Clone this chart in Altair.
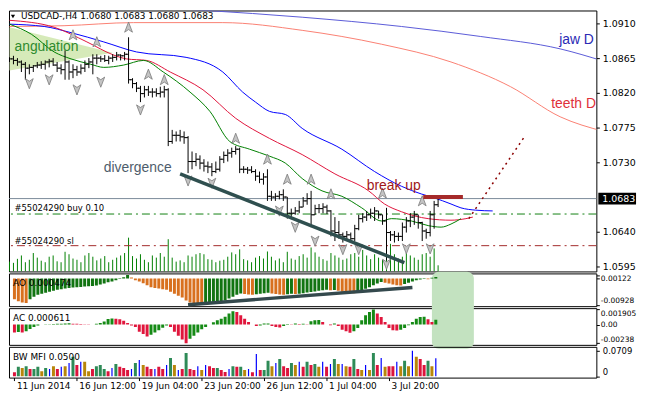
import altair as alt
import pandas as pd

# ---------------- data ----------------
TITLE = "USDCAD-,H4  1.0680 1.0683 1.0680 1.0683"

OPEN = [1.0865,1.0864,1.0862,1.0860,1.0857,1.0852,1.0853,1.0855,1.0856,1.0857,
        1.0860,1.0861,1.0856,1.0852,1.0850,1.0860,1.0847,1.0850,1.0847,1.0852,
        1.0857,1.0860,1.0865,1.0865,1.0864,1.0862,1.0865,1.0866,1.0869,1.0868,
        1.0870,1.0837,1.0832,1.0826,1.0819,1.0824,1.0821,1.0821,1.0819,1.0821,
        1.0824,1.0757,1.0765,1.0765,1.0763,1.0762,1.0731,1.0731,1.0734,1.0729,
        1.0725,1.0724,1.0718,1.0721,1.0734,1.0739,1.0742,1.0744,1.0747,1.0721,
        1.0721,1.0720,1.0718,1.0712,1.0708,1.0711,1.0686,1.0685,1.0686,1.0688,
        1.0685,1.0664,1.0664,1.0667,1.0672,1.0680,1.0683,1.0662,1.0670,1.0670,
        1.0672,1.0667,1.0641,1.0639,1.0636,1.0634,1.0636,1.0631,1.0644,1.0657,
        1.0659,1.0662,1.0664,1.0667,1.0662,1.0654,1.0639,1.0636,1.0634,1.0634,
        1.0646,1.0654,1.0659,1.0662,1.0652,1.0641,1.0639,1.0662,1.0675]
HIGH = [1.0866,1.0868,1.0865,1.0862,1.0860,1.0857,1.0856,1.0860,1.0861,1.0862,
        1.0864,1.0865,1.0860,1.0857,1.0875,1.0862,1.0857,1.0855,1.0857,1.0862,
        1.0865,1.0870,1.0870,1.0868,1.0869,1.0868,1.0870,1.0873,1.0870,1.0873,
        1.0892,1.0839,1.0834,1.0829,1.0829,1.0829,1.0826,1.0826,1.0828,1.0829,
        1.0826,1.0772,1.0770,1.0772,1.0770,1.0764,1.0744,1.0742,1.0739,1.0734,
        1.0731,1.0729,1.0731,1.0738,1.0744,1.0747,1.0749,1.0751,1.0749,1.0725,
        1.0724,1.0725,1.0721,1.0718,1.0716,1.0721,1.0693,1.0690,1.0693,1.0695,
        1.0685,1.0670,1.0672,1.0680,1.0685,1.0690,1.0693,1.0675,1.0676,1.0677,
        1.0675,1.0668,1.0659,1.0654,1.0639,1.0641,1.0639,1.0649,1.0662,1.0664,
        1.0667,1.0670,1.0672,1.0667,1.0662,1.0671,1.0641,1.0641,1.0639,1.0652,
        1.0659,1.0664,1.0667,1.0662,1.0653,1.0644,1.0667,1.0680,1.0685]
LOW = [1.0860,1.0857,1.0855,1.0847,1.0837,1.0844,1.0847,1.0852,1.0851,1.0850,
       1.0853,1.0855,1.0847,1.0844,1.0837,1.0837,1.0839,1.0842,1.0844,1.0847,
       1.0852,1.0844,1.0857,1.0860,1.0860,1.0857,1.0860,1.0862,1.0862,1.0862,
       1.0832,1.0826,1.0821,1.0808,1.0814,1.0816,1.0814,1.0815,1.0814,1.0814,
       1.0751,1.0754,1.0757,1.0757,1.0754,1.0716,1.0721,1.0725,1.0721,1.0718,
       1.0716,1.0712,1.0716,1.0718,1.0729,1.0731,1.0736,1.0740,1.0716,1.0716,
       1.0715,1.0716,1.0706,1.0703,1.0701,1.0680,1.0680,1.0680,1.0682,1.0680,
       1.0657,1.0659,1.0662,1.0664,1.0672,1.0675,1.0646,1.0662,1.0664,1.0664,
       1.0663,1.0634,1.0628,1.0631,1.0626,1.0628,1.0626,1.0628,1.0642,1.0652,
       1.0654,1.0657,1.0654,1.0657,1.0649,1.0603,1.0628,1.0626,1.0628,1.0628,
       1.0639,1.0646,1.0649,1.0644,1.0628,1.0631,1.0634,1.0644,1.0672]
CLOSE = [1.0864,1.0862,1.0860,1.0857,1.0852,1.0853,1.0855,1.0856,1.0857,1.0860,
         1.0861,1.0856,1.0852,1.0850,1.0860,1.0847,1.0850,1.0847,1.0852,1.0857,
         1.0860,1.0865,1.0865,1.0864,1.0862,1.0865,1.0866,1.0869,1.0868,1.0870,
         1.0837,1.0832,1.0826,1.0819,1.0824,1.0821,1.0821,1.0819,1.0821,1.0824,
         1.0757,1.0765,1.0765,1.0763,1.0762,1.0731,1.0731,1.0734,1.0729,1.0725,
         1.0724,1.0718,1.0721,1.0734,1.0739,1.0742,1.0744,1.0747,1.0721,1.0721,
         1.0720,1.0718,1.0712,1.0708,1.0711,1.0686,1.0685,1.0686,1.0688,1.0685,
         1.0664,1.0664,1.0667,1.0672,1.0680,1.0683,1.0662,1.0670,1.0670,1.0672,
         1.0667,1.0641,1.0639,1.0636,1.0634,1.0636,1.0631,1.0644,1.0657,1.0659,
         1.0662,1.0664,1.0667,1.0662,1.0654,1.0639,1.0636,1.0634,1.0634,1.0646,
         1.0654,1.0659,1.0662,1.0652,1.0641,1.0639,1.0662,1.0675,1.0683]
VOLUME = [320,280,410,520,300,380,600,450,350,300,
          480,520,330,300,640,560,420,380,300,520,
          600,480,360,420,500,300,380,450,520,600,
          1100,500,420,560,380,300,520,450,600,480,
          1050,450,320,360,300,520,480,560,600,560,
          400,380,300,350,380,480,620,560,720,400,
          360,300,450,500,420,650,480,360,420,300,
          640,420,380,500,560,450,780,620,480,400,
          350,600,520,450,380,420,560,600,480,700,
          520,400,560,450,380,520,900,560,420,480,
          600,520,450,380,560,600,480,750,200]
AO = [-0.0074,-0.0081,-0.0085,-0.0087,-0.0074,-0.0065,-0.0058,-0.0054,-0.0051,-0.0047,
      -0.0044,-0.0040,-0.0038,-0.0036,-0.0034,-0.0032,-0.0031,-0.0030,-0.0029,-0.0028,
      -0.0027,-0.0025,-0.0022,-0.0018,-0.0014,-0.0011,-0.0007,-0.0002,0.0004,0.00122,
      0.0003,-0.0007,-0.0011,-0.0017,-0.0024,-0.0031,-0.0034,-0.0036,-0.0038,-0.0040,
      -0.0047,-0.0054,-0.0061,-0.0067,-0.0078,-0.0085,-0.0088,-0.0091,-0.00928,-0.0091,
      -0.0090,-0.0088,-0.0087,-0.0085,-0.0078,-0.0071,-0.0065,-0.0058,-0.0053,-0.0055,
      -0.0057,-0.0058,-0.0056,-0.0054,-0.0052,-0.0051,-0.0053,-0.0055,-0.0057,-0.0058,
      -0.0056,-0.0054,-0.0055,-0.0054,-0.0052,-0.0050,-0.0048,-0.0046,-0.0044,-0.0042,
      -0.0040,-0.0042,-0.0041,-0.0044,-0.0047,-0.0049,-0.0051,-0.0052,-0.0047,-0.0043,
      -0.0037,-0.0031,-0.0024,-0.0018,-0.0013,-0.0015,-0.0018,-0.0022,-0.0024,-0.0025,
      -0.0020,-0.0015,-0.0011,-0.0007,-0.0004,-0.0002,-0.0003,0.0002,0.0005]
AC = [-0.00100,-0.00093,-0.00100,-0.00085,-0.00055,-0.00030,-0.00012,0.00002,0.00004,0.00006,
      0.00008,0.00010,0.00012,0.00014,0.00016,0.00012,0.00010,0.00008,0.00006,0.00004,
      0.00003,0.00010,0.00020,0.00040,0.00070,0.00078,0.00074,0.00068,0.00050,0.00020,
      -0.00010,-0.00030,-0.00090,-0.00120,-0.00150,-0.00130,-0.00100,-0.00070,-0.00040,-0.00010,
      -0.00030,-0.00090,-0.00140,-0.00190,-0.00238,-0.00180,-0.00140,-0.00100,-0.00060,-0.00030,
      0.00000,0.00030,0.00055,0.00075,0.00100,0.00140,0.00170,0.00160,0.00120,0.00076,
      0.00034,0.00000,-0.00017,-0.00012,0.00013,0.00015,-0.00017,-0.00030,-0.00038,-0.00017,
      0.00008,0.00004,0.00013,0.00008,0.00010,0.00006,0.00042,0.00055,0.00057,0.00034,
      0.00002,-0.00008,0.00013,-0.00017,-0.00064,-0.00085,-0.00102,-0.00085,-0.00042,0.00055,
      0.00118,0.00161,0.001905,0.00140,0.00097,0.00034,-0.00042,-0.00072,-0.00075,-0.00064,
      -0.00042,-0.00008,0.00034,0.00076,0.00097,0.00099,0.00068,0.00034,0.000611]
MFI = [0.011,0.026,0.023,0.028,0.020,0.020,0.026,0.014,0.023,0.020,
       0.028,0.020,0.026,0.028,0.037,0.054,0.031,0.040,0.040,0.014,
       0.020,0.028,0.031,0.020,0.014,0.023,0.034,0.026,0.023,0.017,
       0.020,0.037,0.045,0.031,0.026,0.020,0.020,0.026,0.020,0.031,
       0.051,0.031,0.017,0.020,0.065,0.020,0.017,0.028,0.017,0.031,
       0.028,0.023,0.023,0.017,0.012,0.020,0.028,0.026,0.026,0.017,
       0.020,0.011,0.062,0.017,0.017,0.043,0.028,0.037,0.048,0.028,
       0.023,0.037,0.031,0.040,0.026,0.040,0.031,0.034,0.026,0.040,
       0.026,0.034,0.048,0.034,0.034,0.028,0.026,0.048,0.020,0.017,
       0.031,0.017,0.065,0.031,0.051,0.026,0.028,0.028,0.040,0.028,
       0.043,0.028,0.0709,0.054,0.048,0.031,0.043,0.028,0.050]
MFI_STATE = list("rgogrggogb" "orbobgrboo" "rgggrbgrrr" "bgborrbrrb" "gobrgrrbob"
                 "rrgrrbgrgo" "brbrggobgr" "rgobrgrgob" "rbgoborgro" "bogrborrbo" "goborrgob")

# Alligator (H4) and daily Alligator lines: (bar index, price)
JAW = [(0,1.0909),(8.75,1.0906),(15.5,1.0898),(23.75,1.0886),(32,1.0873),(44.5,1.0866),
       (53.75,1.0847),(58.75,1.0821),(62,1.0808),(65.5,1.0796),(69.5,1.0792),(73.75,1.0774),
       (83.75,1.0747),(92,1.0718),(98.75,1.0699),(103.75,1.0689),(107,1.0684),(111.25,1.0676),
       (113.75,1.0671),(117.5,1.0668),(121.75,1.0667)]
TEETH = [(0,1.0914),(11.25,1.0905),(19.5,1.0886),(26.25,1.0869),(29.5,1.0864),(34.5,1.0862),
         (40.5,1.0847),(48.75,1.0824),(57,1.0787),(65.5,1.0761),(73.75,1.0740),(82,1.0715),
         (90.5,1.0693),(94.5,1.0676),(98.75,1.0666),(105.5,1.0657),(111.25,1.0655),(115,1.0657),
         (116.75,1.0659)]
LIPS = [(0,1.0909),(5.5,1.0896),(11.25,1.0873),(15.5,1.0864),(20.5,1.0857),(23.75,1.0853),
        (28.75,1.0856),(33.75,1.0862),(38.75,1.0847),(45.5,1.0821),(50.5,1.0796),(55.5,1.0757),
        (60.5,1.0747),(65.5,1.0738),(69.5,1.0729),(73.75,1.0709),(78.75,1.0693),(83.75,1.0686),
        (88.75,1.0671),(93.75,1.0654),(96.25,1.0657),(101.25,1.0654),(105.5,1.0648),(108.75,1.0646),
        (111.25,1.0650),(113.75,1.0657)]
JAW_D = [(28.25,1.0933),(48.75,1.0927),(73.75,1.0918),(98.75,1.0906),(118.75,1.0893),
         (138.75,1.0877),(149.75,1.0861)]
TEETH_D = [(0,1.0906),(13.75,1.0907),(31.25,1.0911),(53.75,1.0911),(73.75,1.0901),(93.75,1.0883),
           (111.25,1.0860),(126.25,1.0828),(138.75,1.0789),(149.75,1.0770)]

FRACTAL_UP = [(16,1.0895),(22,1.0886),(30,1.0905),(35,1.0844),(39,1.0837),(57,1.0761),(65,1.0734),
              (70,1.0708),(76,1.0708),(81,1.0689),(94,1.0690),(104,1.0680)]
FRACTAL_DN = [(5,1.0832),(10,1.0837),(17,1.0824),(23,1.0834),(33,1.0798),(45,1.0706),(51,1.0703),
              (68,1.0667),(72,1.0646),(77,1.0628),(84,1.0617),(88,1.0617),(95,1.0598),(100,1.0618),
              (106,1.0618)]

CURRENT = 1.0683
BUY_PRICE = 1.0663
SL_PRICE = 1.0622
DIVERGENCE_LINE = [(43,1.0715),(99.5,1.0600)]
BREAK_LINE = [(104.25,1.0685),(114.25,1.0685)]
PROJECTION = [(115.75,1.0657),(130,1.0765)]
ANGULATION = [(0,1.09050,1.0849),(26,1.0872,1.0872)]
AO_TREND = [(44.5,-0.00928),(102,-0.0032)]
BOX_X = (107, 117.75)

PRICE_TICKS = [1.0595, 1.0640, 1.0730, 1.0775, 1.0820, 1.0865, 1.0910]
AO_TICKS = [-0.00928, 0, 0.00122]
AC_TICKS = [-0.00238, 0, 0.001905]
MFI_TICKS = [0, 0.0709]
DATE_TICKS = [0, 16, 32, 48, 64, 80, 96]
DATE_LABELS = ["11 Jun 2014", "16 Jun 12:00", "19 Jun 04:00", "23 Jun 20:00",
               "26 Jun 12:00", "1 Jul 04:00", "3 Jul 20:00"]

N = len(CLOSE)
assert all(len(a) == N for a in [OPEN, HIGH, LOW, VOLUME, AO, AC, MFI, MFI_STATE])

# ---------------- layout / style ----------------
FONT = "DejaVu Sans"
TXT = "Liberation Sans"
W = 592
H_MAIN, H_AO, H_AC, H_MFI = 263, 33, 37, 31
X_DOMAIN = [-0.125, W / 4 - 0.125]
PRICE_DOMAIN = [1.05886, 1.09267]
AO_DOMAIN = [-0.0098, 0.00175]
AC_DOMAIN = [-0.00257, 0.00209]
MFI_DOMAIN = [-0.004, 0.082]


def axis_right(values, label_expr=None, fmt=None, flush=None, size=9.5, pad=3):
    kw = dict(orient="right", values=values, title=None, grid=False, domain=False, ticks=True,
              tickSize=3, tickColor="black", labelPadding=pad, labelFont=FONT, labelFontSize=size,
              labelColor="black")
    if label_expr:
        kw["labelExpr"] = label_expr
    if fmt:
        kw["format"] = fmt
    if flush is not None:
        kw["labelFlush"] = flush
    return alt.Axis(**kw)


def signed_expr(zero_txt):
    return (f"datum.value == 0 ? '{zero_txt}' : "
            "(datum.value < 0 ? '-' : '') + format(abs(datum.value), '.6~f')")


date_expr = " : ".join(f"datum.value == {t} ? '{lab}'" for t, lab in zip(DATE_TICKS, DATE_LABELS)) + " : ''"
DATE_AXIS = alt.Axis(orient="bottom", values=DATE_TICKS, labelExpr=date_expr, title=None, grid=False,
                     domain=False, tickSize=3, tickColor="black", labelAlign="left", labelBaseline="top",
                     labelPadding=1, labelOffset=2, labelFlush=False, labelFont=FONT, labelFontSize=9,
                     labelColor="black")
PAXIS = axis_right(PRICE_TICKS, fmt=".4f")
AO_AXIS = axis_right(AO_TICKS, signed_expr("0.00"), flush=3, size=7.5, pad=1)
AC_AXIS = axis_right(AC_TICKS, signed_expr("0.00"), flush=3, size=7.5, pad=1)
MFI_AXIS = axis_right(MFI_TICKS, "datum.value == 0 ? '0' : format(datum.value, '.4~f')", flush=3, size=8.5)


def xenc(field="i", axis=None):
    return alt.X(f"{field}:Q", scale=alt.Scale(domain=X_DOMAIN, nice=False, zero=False), axis=axis)


pscale = alt.Scale(domain=PRICE_DOMAIN, nice=False, zero=False)


def py(field):
    # every layer repeats the same axis so the shared axis is kept
    return alt.Y(f"{field}:Q", scale=pscale, axis=PAXIS)


def pts(points, cols=("i", "p")):
    return pd.DataFrame(points, columns=list(cols))


bars = pd.DataFrame({"i": range(N), "o": OPEN, "h": HIGH, "l": LOW, "c": CLOSE, "v": VOLUME})
B = alt.Chart(bars)

vol = B.mark_rule(color="#008000", strokeWidth=1, clip=True).encode(
    x=xenc(),
    y=alt.Y("v:Q", scale=alt.Scale(domain=[0, 8500], nice=False, zero=True), axis=None),
    y2=alt.datum(0),
)

layers = []
layers.append(alt.Chart(pts(ANGULATION, ("i", "top", "bot"))).mark_area(
    color="#cfe6ad", opacity=0.85, clip=True).encode(x=xenc(), y=py("top"), y2="bot:Q"))
layers.append(alt.Chart(pd.DataFrame({"p": [CURRENT]})).mark_rule(color="#7a8a99", strokeWidth=1).encode(y=py("p")))
layers.append(alt.Chart(pd.DataFrame({"p": [BUY_PRICE]})).mark_rule(
    color="#118011", strokeWidth=1, strokeDash=[8, 4, 2, 4]).encode(y=py("p")))
layers.append(alt.Chart(pd.DataFrame({"p": [SL_PRICE]})).mark_rule(
    color="#a32a2a", strokeWidth=1, strokeDash=[8, 4, 2, 4]).encode(y=py("p")))


def line(points, color, width=1.0, dash=None, interp="monotone"):
    kw = dict(color=color, strokeWidth=width, clip=True, interpolate=interp)
    if dash:
        kw["strokeDash"] = dash
    return alt.Chart(pts(points)).mark_line(**kw).encode(x=xenc(), y=py("p"), order="i:Q")


layers += [line(JAW_D, "#5a5ad8"), line(TEETH_D, "#fa8072"),
           line(JAW, "#0000ff"), line(TEETH, "#e0143c"), line(LIPS, "#008000")]

layers.append(B.mark_rule(color="black", strokeWidth=1, clip=True).encode(
    x=xenc(), y=py("l"), y2="h:Q"))
layers.append(B.transform_calculate(xl="datum.i - 0.6").mark_rule(color="black", strokeWidth=1, clip=True).encode(
    x=xenc("xl"), x2="i:Q", y=py("o")))
layers.append(B.transform_calculate(xr="datum.i + 0.6").mark_rule(color="black", strokeWidth=1, clip=True).encode(
    x=xenc("i"), x2="xr:Q", y=py("c")))

UP_PATH = "M0,-1L0.75,0.95L0,0.45L-0.75,0.95Z"
DN_PATH = "M0,1L0.75,-0.95L0,-0.45L-0.75,-0.95Z"
for data, shape in ((FRACTAL_UP, UP_PATH), (FRACTAL_DN, DN_PATH)):
    layers.append(alt.Chart(pts(data)).mark_point(
        shape=shape, filled=True, fill="#c4c4c4", stroke="#7a7a7a", strokeWidth=0.8,
        size=110, opacity=1).encode(x=xenc(), y=py("p")))

layers.append(line(DIVERGENCE_LINE, "#2f4f4f", 3.5, interp="linear"))
layers.append(line(BREAK_LINE, "#a52a2a", 4, interp="linear"))
layers.append(line(PROJECTION, "#8b0000", 1.5, dash=[2, 4], interp="linear"))

notes = pd.DataFrame({
    "i": [1.25, 23.75, 90, 138.5, 136.5],
    "p": [1.0880, 1.0722, 1.0699, 1.0888, 1.0805],
    "t": ["angulation", "divergence", "break up", "jaw D", "teeth D"],
    "col": ["#2e8b2e", "#4e5d6c", "#a01818", "#2a2ab4", "#e0303a"],
})
layers.append(alt.Chart(notes).mark_text(align="left", baseline="middle", font=TXT, fontSize=14).encode(
    x=xenc(), y=py("p"), text="t:N", color=alt.Color("col:N", scale=None)))
orders = pd.DataFrame({"i": [1.25, 1.25], "p": [1.0671, 1.0628],
                       "t": ["#55024290 buy 0.10", "#55024290 sl"]})
layers.append(alt.Chart(orders).mark_text(align="left", baseline="middle", font=FONT, fontSize=8.5,
                                          color="black").encode(x=xenc(), y=py("p"), text="t:N"))
layers.append(alt.Chart(pd.DataFrame({"t": [TITLE]})).mark_text(
    align="left", baseline="middle", font=FONT, fontSize=9, color="black").encode(
    x=alt.value(12), y=alt.value(6), text="t:N"))
layers.append(alt.Chart(pd.DataFrame({"t": [TITLE]})).mark_point(
    shape="triangle-down", filled=True, color="black", size=18, opacity=1).encode(
    x=alt.value(4), y=alt.value(6)))
layers.append(alt.Chart(pd.DataFrame({"p": [CURRENT]})).mark_rule(color="black", strokeWidth=12, clip=False).encode(
    x=alt.value(W + 2), x2=alt.value(W + 40), y=py("p")))
layers.append(alt.Chart(pd.DataFrame({"p": [CURRENT], "t": [f"{CURRENT:.4f}"]})).mark_text(
    align="left", baseline="middle", font=FONT, fontSize=9.5, color="white", clip=False).encode(
    x=alt.value(W + 6), y=py("p"), text="t:N"))

main = alt.layer(vol, alt.layer(*layers)).resolve_scale(y="independent").properties(width=W, height=H_MAIN)


def panel_label(text):
    return alt.Chart(pd.DataFrame({"t": [text]})).mark_text(
        align="left", baseline="middle", font=FONT, fontSize=9, color="black").encode(
        x=alt.value(4), y=alt.value(10), text="t:N")


def box(y_top, y_bot, top):
    df = pd.DataFrame({"x1": [BOX_X[0]], "x2": [BOX_X[1]], "y1": [y_top], "y2": [y_bot]})
    r = 7
    kw = dict(color="#c3e2c0", clip=False)
    if top:
        kw.update(cornerRadiusTopLeft=r, cornerRadiusTopRight=r)
    else:
        kw.update(cornerRadiusBottomLeft=r, cornerRadiusBottomRight=r)
    return df, kw


# AO panel
ao_state = ["ao_dn"] + ["ao_up" if AO[k] > AO[k - 1] else "ao_dn" for k in range(1, N)]
ao_df = pd.DataFrame({"i": range(N), "v": AO, "s": ao_state})
ao_scale = alt.Scale(domain=AO_DOMAIN, nice=False, zero=False)


def ao_y(field):
    return alt.Y(f"{field}:Q", scale=ao_scale, axis=AO_AXIS)


bdf, bkw = box(0.0023, -0.0100, True)
ao_box = alt.Chart(bdf).mark_rect(**bkw).encode(x=xenc("x1"), x2="x2:Q", y=ao_y("y1"), y2="y2:Q")
ao_bars = alt.Chart(ao_df).mark_bar(width=3, clip=True).encode(
    x=xenc(), y=ao_y("v"), y2=alt.datum(0),
    color=alt.Color("s:N", scale=alt.Scale(domain=["ao_up", "ao_dn"], range=["#117411", "#d8701e"]), legend=None),
)
ao_line = alt.Chart(pts(AO_TREND)).mark_line(color="#34494d", strokeWidth=3.5).encode(x=xenc(), y=ao_y("p"))
ao = alt.layer(ao_box, ao_bars, ao_line, panel_label("AO 0.000474")).properties(width=W, height=H_AO)

# AC panel
ac_state = ["ac_dn"] + ["ac_up" if AC[k] > AC[k - 1] else "ac_dn" for k in range(1, N)]
ac_df = pd.DataFrame({"i": range(N), "v": AC, "s": ac_state})
ac_scale = alt.Scale(domain=AC_DOMAIN, nice=False, zero=False)


def ac_y(field):
    return alt.Y(f"{field}:Q", scale=ac_scale, axis=AC_AXIS)


bdf, bkw = box(0.00247, -0.00307, False)
ac_box = alt.Chart(bdf).mark_rect(**bkw).encode(x=xenc("x1"), x2="x2:Q", y=ac_y("y1"), y2="y2:Q")
ac_bars = alt.Chart(ac_df).mark_bar(width=3, clip=True).encode(
    x=xenc(), y=ac_y("v"), y2=alt.datum(0),
    color=alt.Color("s:N", scale=alt.Scale(domain=["ac_up", "ac_dn"], range=["#158a15", "#e0163c"]), legend=None),
)
ac = alt.layer(ac_box, ac_bars, panel_label("AC 0.000611")).properties(width=W, height=H_AC)

# BW MFI panel
mfi_df = pd.DataFrame({"i": range(N), "v": MFI, "s": MFI_STATE})
mfi_scale = alt.Scale(domain=MFI_DOMAIN, nice=False, zero=False)
mfi_color = alt.Color("s:N", scale=alt.Scale(domain=["g", "o", "r", "b"],
                                             range=["#2e8b57", "#b8860b", "#dc143c", "#0000ff"]), legend=None)
mfi_wide = alt.Chart(mfi_df).transform_filter("datum.s != 'b'").mark_bar(width=3, clip=True).encode(
    x=xenc(axis=DATE_AXIS), y=alt.Y("v:Q", scale=mfi_scale, axis=MFI_AXIS), y2=alt.datum(0), color=mfi_color)
mfi_thin = alt.Chart(mfi_df).transform_filter("datum.s == 'b'").mark_bar(width=1.2, clip=True).encode(
    x=xenc(axis=DATE_AXIS), y=alt.Y("v:Q", scale=mfi_scale, axis=MFI_AXIS), y2=alt.datum(0), color=mfi_color)
mfi = alt.layer(mfi_wide, mfi_thin, panel_label("BW MFI 0.0500")).properties(width=W, height=H_MFI)

chart = alt.vconcat(main, ao, ac, mfi, spacing=2, bounds="flush").resolve_scale(
    color="independent").properties(
    padding={"left": 0, "top": 0, "right": -2, "bottom": 0}, background="white"
).configure_view(stroke="black", strokeWidth=1)

chart.save("out.html", embed_options={"renderer": "svg", "actions": False})
